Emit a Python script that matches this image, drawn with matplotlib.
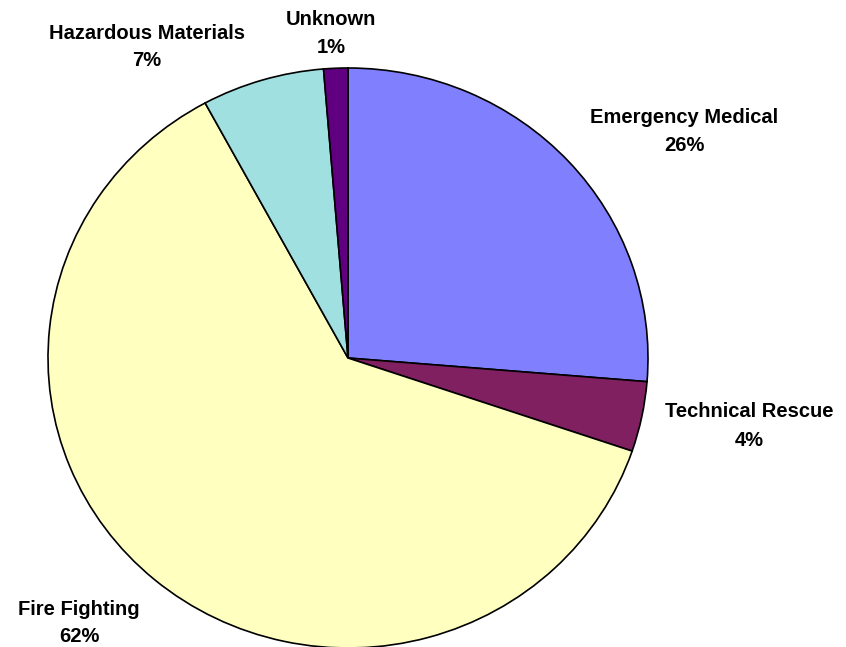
"""Incident type breakdown pie chart, saved to out.png."""

import matplotlib
matplotlib.use("Agg")
import matplotlib.pyplot as plt

categories = ["Emergency Medical", "Technical Rescue", "Fire Fighting",
              "Hazardous Materials", "Unknown"]
shares = [26.3, 3.9, 61.9, 6.6, 1.3]
colors = ["#8080FF", "#802060", "#FFFFC0", "#A0E0E0", "#600080"]

# label placement in pixels: centre x, baseline of name, baseline of percent
label_px = [(684, 123, 151), (749, 417, 446), (79, 615, 642),
            (147, 39, 66), (331, 25, 53)]

W, H = 846, 647
CX, CY, RX, RY = 348, 358, 300, 290   # pie centre / radii in pixels

plt.rcParams["font.family"] = ["Liberation Sans", "DejaVu Sans"]

fig = plt.figure(figsize=(W / 100, H / 100), dpi=100)
ax = fig.add_axes([0, 0, 1, 1])
ax.pie(shares, colors=colors, startangle=90, counterclock=False,
       wedgeprops=dict(edgecolor="black", linewidth=1.2))
ax.set_aspect("auto")
ax.set_xlim(-CX / RX, (W - CX) / RX)
ax.set_ylim((CY - H) / RY, CY / RY)
ax.axis("off")

for name, val, (px, py1, py2) in zip(categories, shares, label_px):
    x = (px - CX) / RX
    for txt, py in ((name, py1), (f"{round(val)}%", py2)):
        ax.text(x, (CY - py) / RY, txt, ha="center", va="baseline",
                fontsize=14.5, fontweight="bold")

fig.savefig("out.png", dpi=100)
plt.close(fig)
